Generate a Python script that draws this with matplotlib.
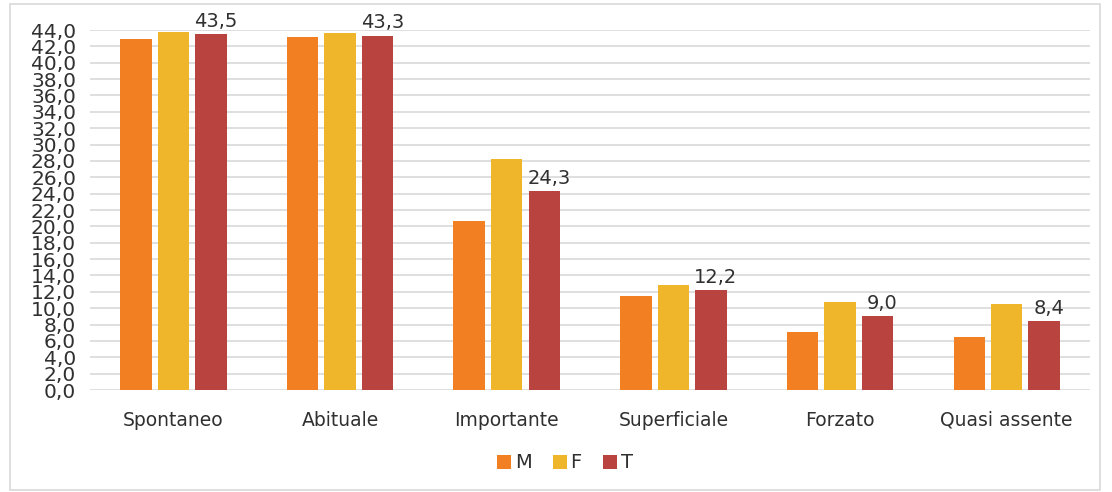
import matplotlib.pyplot as plt
import numpy as np
from matplotlib.patches import Rectangle

categories = ["Spontaneo", "Abituale", "Importante", "Superficiale", "Forzato", "Quasi assente"]
m_values = [42.9, 43.2, 20.6, 11.5, 7.1, 6.5]
f_values = [43.8, 43.6, 28.2, 12.8, 10.7, 10.5]
t_values = [43.5, 43.3, 24.3, 12.2, 9.0, 8.4]
y_ticks = list(range(0, 45, 2))

plt.rcParams['font.family'] = ['DejaVu Sans']
text_color = "#303030"

fig = plt.figure(figsize=(11.12, 4.92), dpi=100)
ax = fig.add_axes([90 / 1112, 1 - 390 / 492, 1000 / 1112, 360 / 492])

x = np.arange(len(categories))
width = 0.188
offset = 0.225
ax.bar(x - offset, m_values, width, color="#F28022", label="M", zorder=3)
ax.bar(x, f_values, width, color="#EFB52B", label="F", zorder=3)
ax.bar(x + offset, t_values, width, color="#B8433F", label="T", zorder=3)

for xi, v in zip(x, t_values):
    ax.text(xi + offset + 0.03, v + 0.4, f"{v:.1f}".replace(".", ","),
            ha="center", va="bottom", fontsize=14, color=text_color)

ax.set_xlim(-0.5, len(categories) - 0.5)
ax.set_ylim(0, 44)
ax.set_yticks(y_ticks)
ax.set_yticklabels([f"{t:.1f}".replace(".", ",") for t in y_ticks],
                   fontsize=14.5, color=text_color)
ax.set_xticks(x)
ax.set_xticklabels(categories, fontsize=13.5, color=text_color)
ax.tick_params(length=0)
ax.tick_params(axis="x", pad=15)
ax.tick_params(axis="y", pad=10)
ax.grid(axis="y", color="#D9D9D9", linewidth=1.2, zorder=0)
for s in ax.spines.values():
    s.set_visible(False)

leg = fig.legend(loc="center", bbox_to_anchor=(565 / 1112, 1 - 463 / 492), ncol=3,
                 frameon=False, fontsize=14, handlelength=0.7, handleheight=0.7,
                 handletextpad=0.2, columnspacing=1.1)
for t in leg.get_texts():
    t.set_color(text_color)

fig.patches.append(Rectangle((10 / 1112, 2 / 492), 1090 / 1112, 486 / 492,
                             transform=fig.transFigure, fill=False,
                             edgecolor="#D9D9D9", linewidth=1.2))

fig.savefig("out.png", dpi=100)
